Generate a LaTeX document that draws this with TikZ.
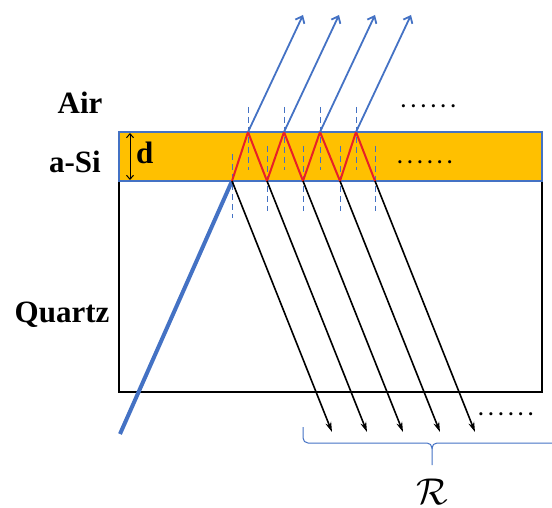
\documentclass[tikz,border=0pt]{standalone}
\usepackage{fontspec}
\setmainfont{Liberation Serif}
\usetikzlibrary{arrows.meta}
\definecolor{oblue}{HTML}{4472C4}
\definecolor{ogold}{HTML}{FFC000}
\definecolor{ored}{RGB}{232,32,40}
\newcommand\sixdots{.\hspace{5.2pt}.\hspace{5.2pt}.\hspace{5.2pt}.\hspace{5.2pt}.\hspace{5.2pt}.}
\begin{document}
\begin{tikzpicture}[x=1pt,y=-1pt,
  lbl/.style={font=\fontsize{31}{31}\selectfont\bfseries, inner sep=0pt, anchor=base},
  dotslbl/.style={font=\fontsize{19}{19}\selectfont\bfseries, inner sep=0pt, anchor=base west},
  normal/.style={oblue, line width=0.9pt, dash pattern=on 6pt off 4pt},
  refl/.style={oblue, line width=1.8pt, -{Straight Barb[length=6pt,width=10pt,line width=1.8pt]}},
  trans/.style={black, line width=1.6pt, -{Stealth[length=10pt,width=6pt]}},
  zig/.style={ored, line width=2pt, line join=round},
  beam/.style={oblue, line width=4pt}]
\useasboundingbox (0,0) rectangle (552,508);
% quartz substrate
\draw[black, line width=1.6pt] (119,181) rectangle (542,392);
% a-Si layer
\draw[oblue, fill=ogold, line width=2pt] (119,132) rectangle (542,181);
% thickness arrow
\draw[black, line width=1pt, {Straight Barb[length=4pt,width=7pt]}-{Straight Barb[length=4pt,width=7pt]}] (130,133) -- (130,180);
% points
\coordinate (b1) at (232,181);
\coordinate (t1) at (248,132);
\coordinate (b2) at (267,181);
\coordinate (t2) at (284,132);
\coordinate (b3) at (303,181);
\coordinate (t3) at (320,132);
\coordinate (b4) at (340,181);
\coordinate (t4) at (356,132);
\coordinate (b5) at (375,181);
\coordinate (src) at (120,434);
% normals
\foreach \p in {t1,t2,t3,t4}{
  \draw[normal] ([yshift=25pt]\p) -- ([yshift=-38pt]\p);
}
\draw[normal] ([yshift=27pt]b1) -- ([yshift=-37pt]b1);
\foreach \p in {b2,b3,b4,b5}{
  \draw[normal] ([yshift=35pt]\p) -- ([yshift=-30pt]\p);
}
% incident beam
\draw[beam] (src) -- (b1);
% zigzag
\draw[zig] (b1) -- (t1) -- (b2) -- (t2) -- (b3) -- (t3) -- (b4) -- (t4) -- (b5);
% reflected
\foreach \p in {t1,t2,t3,t4}{
  \draw[refl] (\p) -- ++(55,-117);
}
% transmitted
\foreach \p in {b1,b2,b3,b4,b5}{
  \draw[trans] (\p) -- ++(100,251);
}
% labels
\node[lbl] (air) at (80,114) {Air};
\node[lbl] (asi) at (75,173) {a-Si};
\node[lbl] (quartz) at (62,322.5) {Quartz};
\node[lbl, anchor=base west] (d) at (136,164) {d};
\node[dotslbl] (dots1) at (401,107.5) {\sixdots};
\node[dotslbl] (dots2) at (397.5,163.5) {\sixdots};
\node[dotslbl] (dots3) at (478.5,415) {\sixdots};
% brace
\draw[oblue, line width=1pt, rounded corners=5pt] (303,427) -- (303,443) -- (432,443) -- (432,449);
\draw[oblue, line width=1pt, rounded corners=5pt] (432,465) -- (432,443) -- (560,443);
\node[inner sep=0pt, anchor=base, font=\fontsize{24.88}{26}\selectfont] (R) at (432,504) {\scalebox{1.5}{$\mathcal{R}$}};
\end{tikzpicture}
\end{document}
